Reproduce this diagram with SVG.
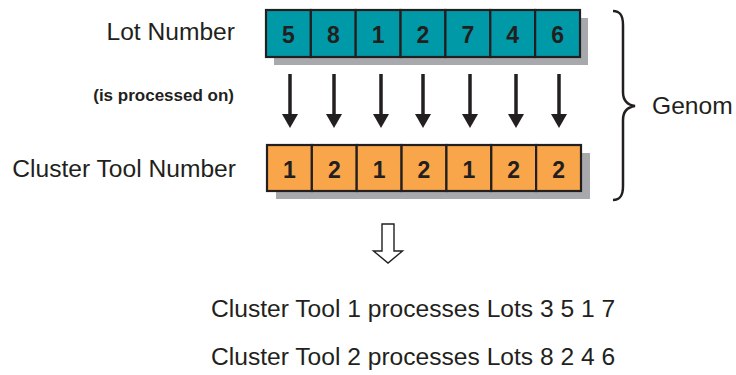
<svg xmlns="http://www.w3.org/2000/svg" width="736" height="375" viewBox="0 0 736 375">
  <style>
    text { font-family: "Liberation Sans", Arial, sans-serif; fill: #231f20; }
    .label { font-size: 24.6px; }
    .small { font-size: 17px; font-weight: bold; }
    .digit { font-size: 23px; font-weight: bold; text-anchor: middle; }
    .shadow { fill: #a7a9ac; }
    .cell { stroke: #231f20; stroke-width: 2.2; }
    .lot { fill: #0099a8; }
    .tool { fill: #f9a54a; }
    .arrow { stroke: #231f20; stroke-width: 3.5; fill: none; }
    .head { fill: #231f20; }
  </style>
  <rect width="736" height="375" fill="#ffffff"/>

  <!-- row labels -->
  <g id="labels">
    <text class="label" x="235" y="40" text-anchor="end">Lot Number</text>
    <text class="small" x="234" y="101" text-anchor="end">(is processed on)</text>
    <text class="label" x="236" y="177" text-anchor="end">Cluster Tool Number</text>
  </g>

  <!-- lot number chromosome -->
  <g id="lot-row">
    <rect class="shadow" x="274" y="18" width="314" height="47"/>
    <g class="cell lot">
      <rect x="266" y="10" width="44.86" height="47"/>
      <rect x="310.86" y="10" width="44.86" height="47"/>
      <rect x="355.71" y="10" width="44.86" height="47"/>
      <rect x="400.57" y="10" width="44.86" height="47"/>
      <rect x="445.43" y="10" width="44.86" height="47"/>
      <rect x="490.29" y="10" width="44.86" height="47"/>
      <rect x="535.14" y="10" width="44.86" height="47"/>
    </g>
    <text class="digit" x="288.4" y="42.5">5</text>
    <text class="digit" x="333.3" y="42.5">8</text>
    <text class="digit" x="378.1" y="42.5">1</text>
    <text class="digit" x="423" y="42.5">2</text>
    <text class="digit" x="467.9" y="42.5">7</text>
    <text class="digit" x="512.7" y="42.5">4</text>
    <text class="digit" x="557.6" y="42.5">6</text>
  </g>

  <!-- cluster tool chromosome -->
  <g id="tool-row">
    <rect class="shadow" x="276" y="153" width="314" height="46"/>
    <g class="cell tool">
      <rect x="267" y="145" width="44.86" height="46"/>
      <rect x="311.86" y="145" width="44.86" height="46"/>
      <rect x="356.71" y="145" width="44.86" height="46"/>
      <rect x="401.57" y="145" width="44.86" height="46"/>
      <rect x="446.43" y="145" width="44.86" height="46"/>
      <rect x="491.29" y="145" width="44.86" height="46"/>
      <rect x="536.14" y="145" width="44.86" height="46"/>
    </g>
    <text class="digit" x="289.4" y="177.5">1</text>
    <text class="digit" x="334.3" y="177.5">2</text>
    <text class="digit" x="379.1" y="177.5">1</text>
    <text class="digit" x="424" y="177.5">2</text>
    <text class="digit" x="468.9" y="177.5">1</text>
    <text class="digit" x="513.7" y="177.5">2</text>
    <text class="digit" x="558.6" y="177.5">2</text>
  </g>

  <!-- assignment arrows -->
  <g id="connectors">
    <g class="arrow">
      <line x1="290" y1="74" x2="290" y2="116"/>
      <line x1="334" y1="74" x2="334" y2="116"/>
      <line x1="381" y1="74" x2="381" y2="116"/>
      <line x1="423" y1="74" x2="423" y2="116"/>
      <line x1="470" y1="74" x2="470" y2="116"/>
      <line x1="516" y1="74" x2="516" y2="116"/>
      <line x1="559" y1="74" x2="559" y2="116"/>
    </g>
    <g class="head">
      <polygon points="282,114 298,114 290,128"/>
      <polygon points="326,114 342,114 334,128"/>
      <polygon points="373,114 389,114 381,128"/>
      <polygon points="415,114 431,114 423,128"/>
      <polygon points="462,114 478,114 470,128"/>
      <polygon points="508,114 524,114 516,128"/>
      <polygon points="551,114 567,114 559,128"/>
    </g>
  </g>

  <!-- brace grouping both rows -->
  <g id="genom">
    <path d="M613,11 C620,11 623,15 623,25 L623,92 C623,101 628,105 635,106 C628,107 623,111 623,120 L623,186 C623,196 620,200 613,200" fill="none" stroke="#231f20" stroke-width="2.5"/>
    <text class="label" x="652" y="114">Genom</text>
  </g>

  <!-- result arrow -->
  <g id="result-arrow">
    <polygon points="382,224 394,224 394,251 402.5,251 388,263 373.5,251 382,251" fill="#ffffff" stroke="#231f20" stroke-width="1.4"/>
  </g>

  <!-- decoded result -->
  <g id="result">
    <text class="label" x="211" y="317">Cluster Tool 1 processes Lots 3 5 1 7</text>
    <text class="label" x="211" y="365">Cluster Tool 2 processes Lots 8 2 4 6</text>
  </g>
</svg>
